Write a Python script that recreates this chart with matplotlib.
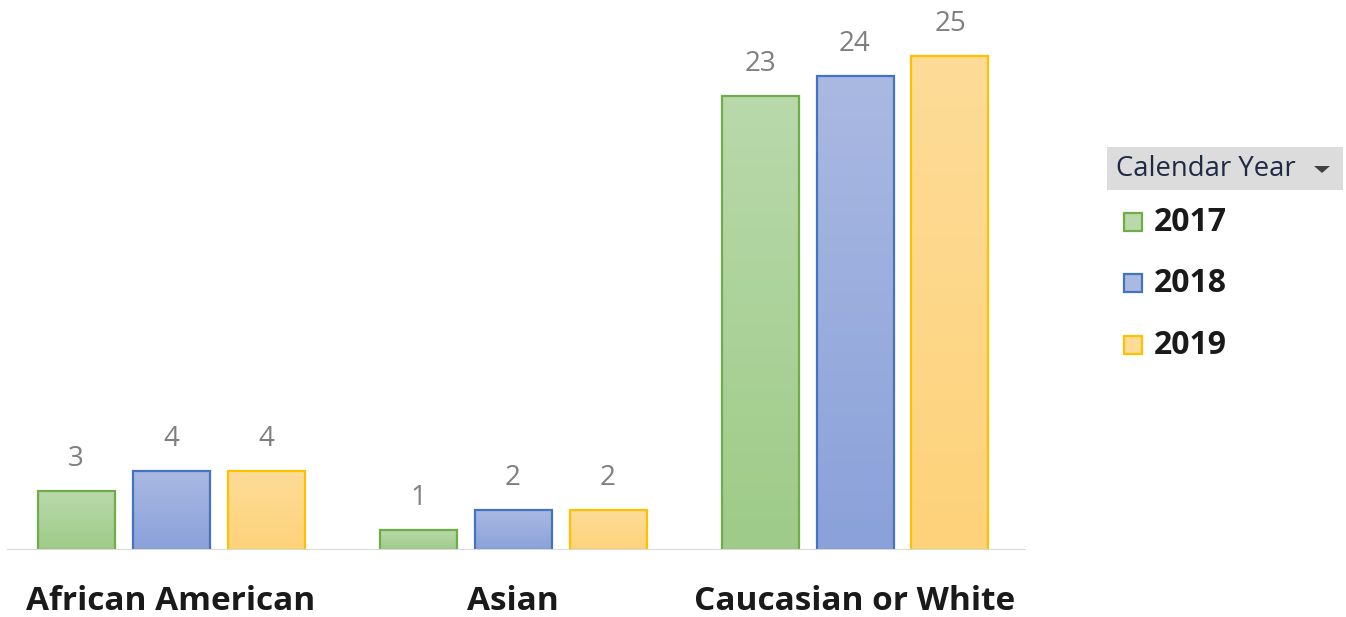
import numpy as np
import matplotlib
matplotlib.use("Agg")
import matplotlib.pyplot as plt
from matplotlib.patches import Rectangle, Polygon
from matplotlib.colors import LinearSegmentedColormap

categories = ["African American", "Asian", "Caucasian or White"]
years = ["2017", "2018", "2019"]
values_2017 = [3, 1, 23]
values_2018 = [4, 2, 24]
values_2019 = [4, 2, 25]
series = [values_2017, values_2018, values_2019]

fills_top = ["#b9d9ab", "#aab9e2", "#fedc98"]
fills_bot = ["#9ecb88", "#8aa1d9", "#fdd27a"]
edges = ["#70ad47", "#4472c4", "#ffc000"]
FONT = "Open Sans"

W, H = 1346, 617
fig = plt.figure(figsize=(W / 100, H / 100), dpi=100)
ax_left, ax_right = 0 / W, 1026 / W
ax_bottom = (H - 550) / H
ax = fig.add_axes([ax_left, ax_bottom, ax_right - ax_left, 1 - ax_bottom])
px_per_unit = (550 - 56) / 25.0
ymax = 550 / px_per_unit

bar_w = 77 / 342
pitch = 95 / 342
x = np.arange(len(categories))
for i, (vals, ct, cb, ec) in enumerate(zip(series, fills_top, fills_bot, edges)):
    xs = x + (i - 1) * pitch
    bars = ax.bar(xs, vals, width=bar_w, color="none", edgecolor=ec, linewidth=1.6, zorder=3)
    cmap = LinearSegmentedColormap.from_list("g%d" % i, [cb, ct])
    grad = np.linspace(0, 1, 256).reshape(-1, 1)
    for b, v in zip(bars, vals):
        im = ax.imshow(grad, cmap=cmap, aspect="auto", origin="lower",
                       extent=[b.get_x(), b.get_x() + b.get_width(), 0, v], zorder=2)
        clip = Rectangle((b.get_x(), 0), b.get_width(), v, transform=ax.transData)
        im.set_clip_path(clip)
        ax.annotate(str(v), (b.get_x() + b.get_width() / 2, v), xytext=(0, 18),
                    textcoords="offset points", ha="center", va="baseline",
                    fontsize=20, color="#7f7f7f", family=FONT)

ax.set_xlim(-0.5, len(categories) - 0.5)
ax.set_ylim(0, ymax)
ax.axhline(0, xmin=8 / 1026, xmax=1, color="#d9d9d9", linewidth=1.5, zorder=4)
for s in ax.spines.values():
    s.set_visible(False)
ax.set_yticks([])
ax.set_xticks(x)
ax.set_xticklabels(categories, fontsize=24, fontweight="bold", family=FONT, color="#1a1a1a")
ax.tick_params(axis="x", length=0, pad=25)

# legend header
hdr = Rectangle((1107 / W, 1 - 190 / H), (1343 - 1107) / W, 43 / H, transform=fig.transFigure,
                facecolor="#dcdcdc", edgecolor="none")
fig.patches.append(hdr)
fig.text(1116 / W, 1 - 169 / H, "Calendar Year", fontsize=19.8, family=FONT, color="#1f2a44",
         va="center", ha="left")
tri = Polygon([(1314 / W, 1 - 166 / H), (1330 / W, 1 - 166 / H), (1322 / W, 1 - 173 / H)],
              closed=True, transform=fig.transFigure, facecolor="#404040", edgecolor="none")
fig.patches.append(tri)
legend_y = [222, 283, 345]
for yr, ly, ct, cb, ec in zip(years, legend_y, fills_top, fills_bot, edges):
    sq = Rectangle((1124 / W, 1 - (ly + 9) / H), 18 / W, 18 / H, transform=fig.transFigure,
                   facecolor=ct, edgecolor=ec, linewidth=1.6)
    fig.patches.append(sq)
    fig.text(1154 / W, 1 - ly / H, yr, fontsize=23, fontweight="bold", family=FONT,
             color="#1a1a1a", va="center", ha="left")

fig.savefig("out.png", dpi=100)
